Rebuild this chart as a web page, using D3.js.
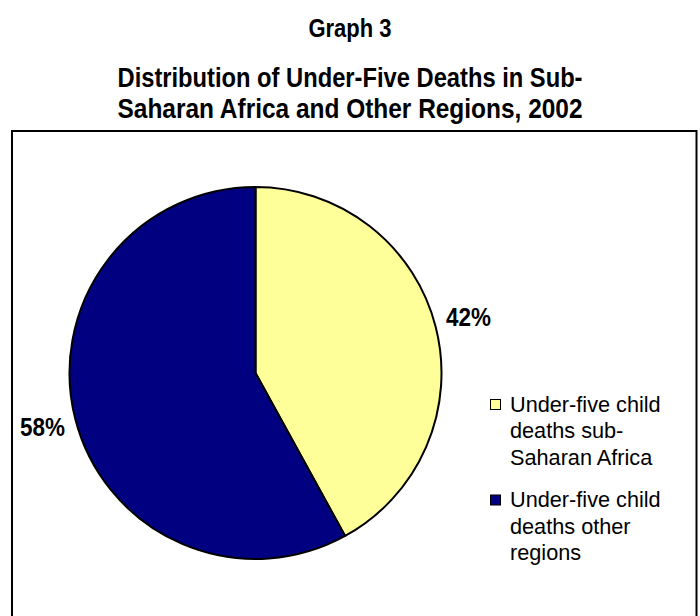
<!DOCTYPE html>
<html>
<head>
<meta charset="utf-8">
<script src="https://cdn.jsdelivr.net/npm/d3@7"></script>
<style>
  html, body { margin: 0; padding: 0; background: #fff; }
  svg { display: block; font-family: "Liberation Sans", Arial, sans-serif; }
</style>
</head>
<body>
<svg id="chart" width="700" height="616"></svg>
<script>
// Under-five deaths, 2002: share by region (percent)
const categories = ["Under-five child deaths sub-Saharan Africa", "Under-five child deaths other regions"];
const values = [42, 58];
const legendLines = [
  ["Under-five child", "deaths sub-", "Saharan Africa"],
  ["Under-five child", "deaths other", "regions"]
];
const colors = ["#FFFF99", "#000080"];
const titleLines = ["Distribution of Under-Five Deaths in Sub-", "Saharan Africa and Other Regions, 2002"];

const svg = d3.select("#chart");

// Headings (set in a tall, narrow bold face)
svg.append("text")
  .attr("transform", "translate(350,37) scale(1,1.2)")
  .attr("text-anchor", "middle")
  .attr("font-weight", "bold").attr("font-size", 22)
  .text("Graph 3");

svg.selectAll("text.title")
  .data(titleLines)
  .join("text")
  .attr("class", "title")
  .attr("transform", (d, i) => `translate(350,${87 + i * 31}) scale(1,1.2)`)
  .attr("text-anchor", "middle")
  .attr("font-weight", "bold").attr("font-size", 23.5)
  .attr("textLength", 465)
  .attr("lengthAdjust", "spacingAndGlyphs")
  .text(d => d);

// Chart frame
svg.append("rect")
  .attr("x", 12).attr("y", 131)
  .attr("width", 684.5).attr("height", 500)
  .attr("fill", "none").attr("stroke", "#000").attr("stroke-width", 2);

// Pie
const cx = 255.5, cy = 373, r = 186;
const pie = d3.pie().sort(null).value(d => d)(values);
const arc = d3.arc().innerRadius(0).outerRadius(r);
const labelArc = d3.arc().innerRadius(220).outerRadius(220);

const g = svg.append("g").attr("transform", `translate(${cx},${cy})`);
g.selectAll("path")
  .data(pie)
  .join("path")
  .attr("d", arc)
  .attr("fill", (d, i) => colors[i])
  .attr("stroke", "#000")
  .attr("stroke-width", 2)
  .attr("stroke-linejoin", "round");

g.selectAll("text.pct")
  .data(pie)
  .join("text")
  .attr("class", "pct")
  .attr("transform", d => { const [x, y] = labelArc.centroid(d); return `translate(${x},${y + 8}) scale(1,1.12)`; })
  .attr("text-anchor", "middle")
  .attr("font-weight", "bold").attr("font-size", 22.5)
  .text(d => d.data + "%");

// Legend
const legend = svg.append("g").attr("transform", "translate(490,399)");
const items = legend.selectAll("g")
  .data(categories)
  .join("g")
  .attr("transform", (d, i) => `translate(0,${i * 95.5})`);
items.append("rect")
  .attr("x", 0.5).attr("y", 0.5)
  .attr("width", 10).attr("height", 10)
  .attr("fill", (d, i) => colors[i])
  .attr("stroke", "#000").attr("stroke-width", 1);
items.each(function(d, i) {
  d3.select(this).selectAll("text")
    .data(legendLines[i])
    .join("text")
    .attr("transform", (t, j) => `translate(20,${12.5 + j * 26.5}) scale(1,1.05)`)
    .attr("font-size", 21.7)
    .text(t => t);
});
</script>
</body>
</html>
